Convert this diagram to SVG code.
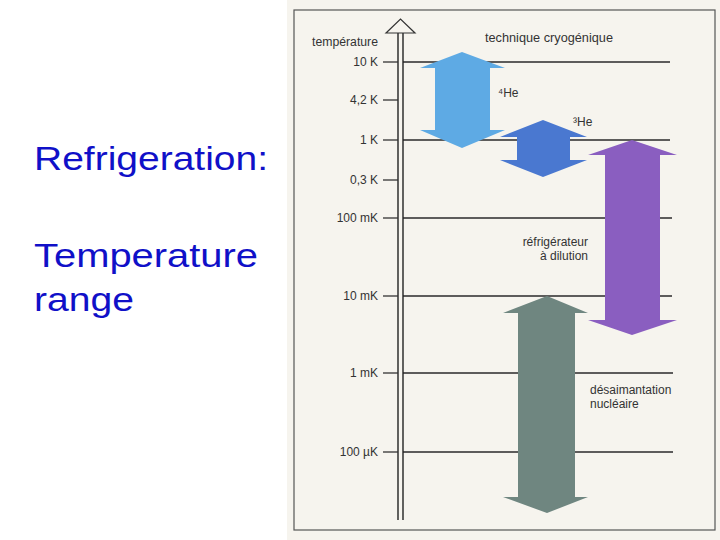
<svg xmlns="http://www.w3.org/2000/svg" width="720" height="540" viewBox="0 0 720 540">
<style>
.title{font-family:"Liberation Sans",Arial,sans-serif;font-size:34px;fill:#1010c8}
.lbl{font-family:"Liberation Sans",Arial,sans-serif;font-size:12px;fill:#333}
.tick{stroke:#333;stroke-width:1.3}
.grid{stroke:#2a2a2a;stroke-width:1.3}
</style>
<rect x="0" y="0" width="720" height="540" fill="#ffffff"/>
<rect x="287" y="0" width="433" height="540" fill="#f6f4ee"/>
<rect x="294" y="10" width="421" height="520" fill="none" stroke="#555" stroke-width="1.2"/>

<g id="title">
<text class="title" x="34" y="170" textLength="234" lengthAdjust="spacingAndGlyphs">Refrigeration:</text>
<text class="title" x="34" y="267" textLength="224" lengthAdjust="spacingAndGlyphs">Temperature</text>
<text class="title" x="34" y="311" textLength="100" lengthAdjust="spacingAndGlyphs">range</text>
</g>

<g id="connectors">
<line class="grid" x1="403" y1="62" x2="670" y2="62"/>
<line class="grid" x1="403" y1="140" x2="670" y2="140"/>
<line class="grid" x1="403" y1="218" x2="672" y2="218"/>
<line class="grid" x1="403" y1="296" x2="672" y2="296"/>
<line class="grid" x1="403" y1="373" x2="673" y2="373"/>
<line class="grid" x1="403" y1="452" x2="673" y2="452"/>
</g>

<g id="axis">
<line x1="398" y1="32" x2="398" y2="520" stroke="#222" stroke-width="1.4"/>
<line x1="403" y1="32" x2="403" y2="520" stroke="#222" stroke-width="1.4"/>
<polygon points="386,33 400.5,19 415,33" fill="#f6f4ee" stroke="#333" stroke-width="1.2"/>
<text class="lbl" x="378" y="46" text-anchor="end" textLength="66" lengthAdjust="spacingAndGlyphs">température</text>
<line class="tick" x1="383" y1="62" x2="398" y2="62"/><text class="lbl" x="378" y="66" text-anchor="end">10 K</text>
<line class="tick" x1="383" y1="100" x2="398" y2="100"/><text class="lbl" x="378" y="104" text-anchor="end">4,2 K</text>
<line class="tick" x1="383" y1="140" x2="398" y2="140"/><text class="lbl" x="378" y="144" text-anchor="end">1 K</text>
<line class="tick" x1="383" y1="180" x2="398" y2="180"/><text class="lbl" x="378" y="184" text-anchor="end">0,3 K</text>
<line class="tick" x1="383" y1="218" x2="398" y2="218"/><text class="lbl" x="378" y="222" text-anchor="end">100 mK</text>
<line class="tick" x1="383" y1="296" x2="398" y2="296"/><text class="lbl" x="378" y="300" text-anchor="end">10 mK</text>
<line class="tick" x1="383" y1="373" x2="398" y2="373"/><text class="lbl" x="378" y="377" text-anchor="end">1 mK</text>
<line class="tick" x1="383" y1="452" x2="398" y2="452"/><text class="lbl" x="378" y="456" text-anchor="end">100 µK</text>
</g>

<g id="header"><text class="lbl" x="485" y="42" textLength="128" lengthAdjust="spacingAndGlyphs">technique cryogénique</text></g>

<g id="he4">
<polygon points="462,52 505,68 490,68 490,130 505,130 462,148 420,130 435,130 435,68 420,68" fill="#5eaae4"/>
<text class="lbl" x="498" y="97">⁴He</text>
</g>

<g id="he3">
<polygon points="543,120 587,137 570,137 570,160 587,160 543,177 500,160 517,160 517,137 500,137" fill="#4a78d0"/>
<text class="lbl" x="573" y="126">³He</text>
</g>

<g id="dilution">
<polygon points="632,140 677,155 660,155 660,320 677,320 632,335 588,320 605,320 605,155 588,155" fill="#8a5ec0"/>
<text class="lbl" x="588" y="246" text-anchor="end">réfrigérateur</text>
<text class="lbl" x="588" y="260" text-anchor="end">à dilution</text>
</g>

<g id="nuclear">
<polygon points="547,296 588,313 575,313 575,497 588,497 547,513 503,497 518,497 518,313 503,313" fill="#6f8680"/>
<text class="lbl" x="590" y="394">désaimantation</text>
<text class="lbl" x="590" y="408">nucléaire</text>
</g>
</svg>
